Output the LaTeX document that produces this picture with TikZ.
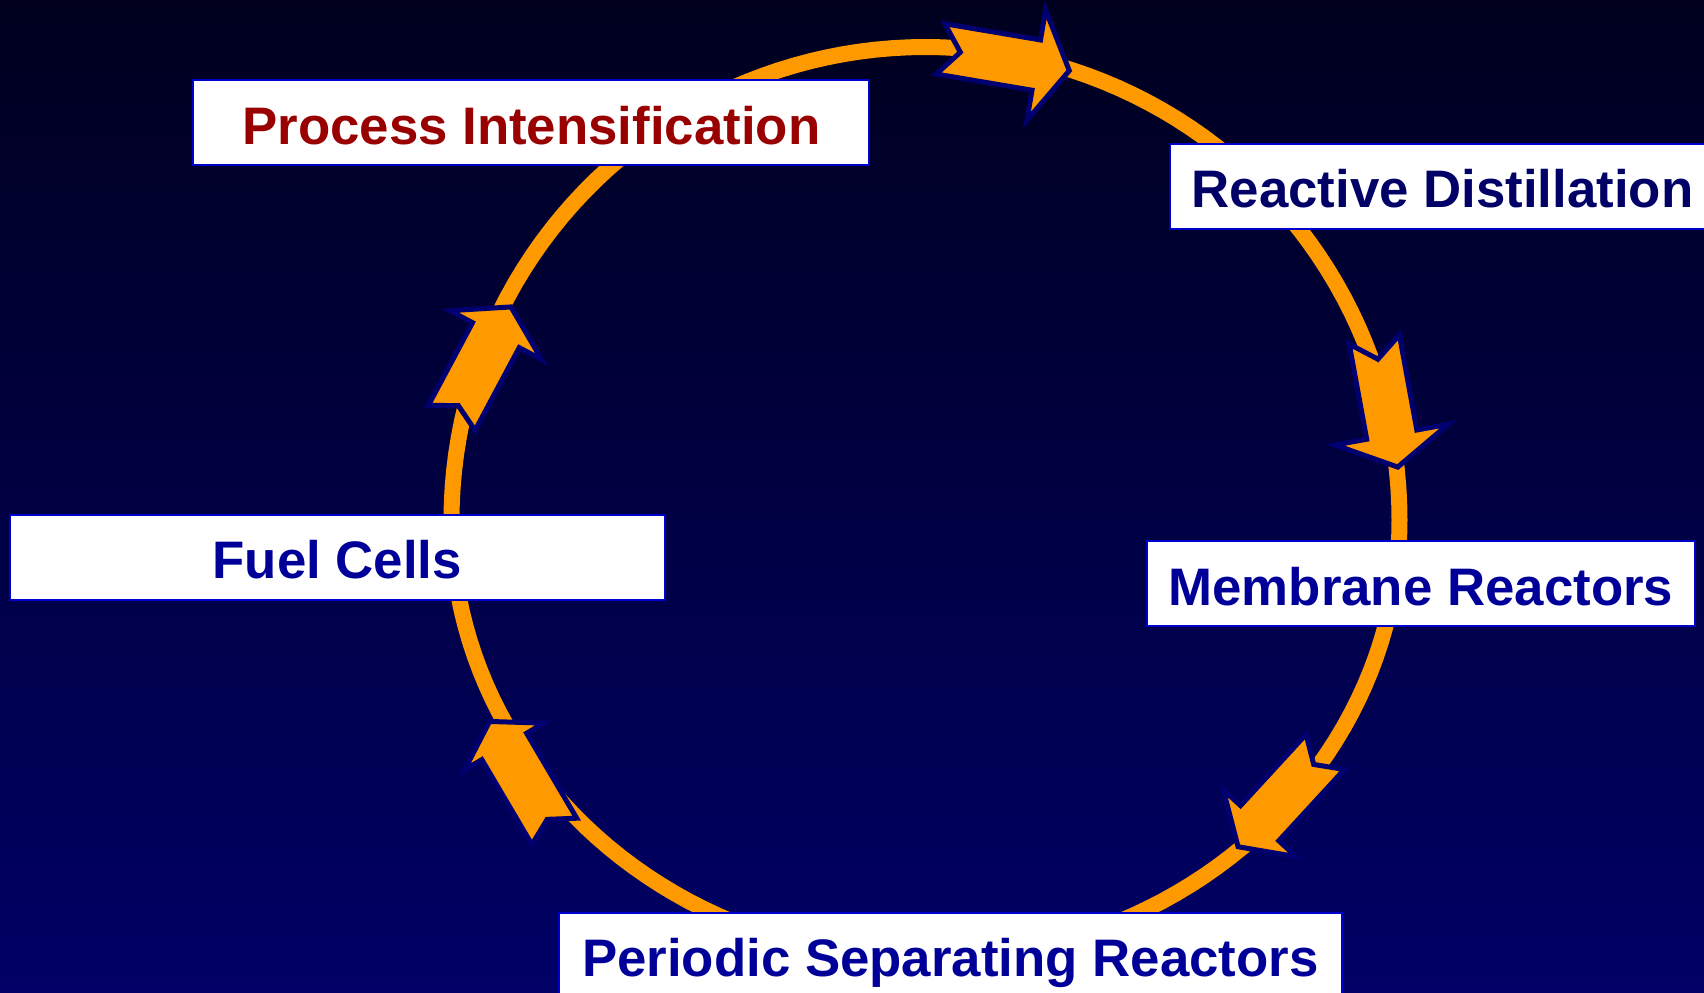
\documentclass[tikz,border=0pt]{standalone}
\usepackage{fontspec}
\setmainfont{Liberation Sans}

\definecolor{ringorange}{RGB}{255,153,0}
\definecolor{arrowedge}{RGB}{0,0,112}
\definecolor{boxedge}{RGB}{0,0,204}
\definecolor{labelred}{RGB}{153,0,0}
\definecolor{labelblue}{RGB}{0,0,153}
\definecolor{labelnavy}{RGB}{0,0,102}
\definecolor{skytop}{RGB}{0,0,30}
\definecolor{skymid}{RGB}{0,0,82}
\definecolor{skybottom}{RGB}{0,0,102}

\tikzset{
  ring/.style={draw=ringorange, line width=16bp},
  arrowbody/.style={fill=ringorange, draw=arrowedge, line width=5bp,
    line join=miter, miter limit=10},
  labelbox/.style={draw=boxedge, line width=2bp, fill=white, inner sep=0pt,
    minimum height=85bp, text height=43bp, text depth=0pt,
    font=\fontsize{53}{60}\selectfont\bfseries, text=labelblue},
}

% notched block arrow: tail centre (#1,#2), direction #3, length #4,
% head length #5, head half-width #6, shaft half-width #7, notch depth #8
\newcommand{\notchedarrow}[8]{%
  \begin{scope}[shift={(#1,#2)}, rotate=#3]
    \filldraw[arrowbody] (0,#7) -- ({#4-#5},#7) -- ({#4-#5},#6) -- (#4,0)
      -- ({#4-#5},-#6) -- ({#4-#5},-#7) -- (0,-#7) -- (#8,0) -- cycle;
  \end{scope}}

\begin{document}
\begin{tikzpicture}[x=1bp, y=-1bp]
  \useasboundingbox (0,0) rectangle (1704,992);
  \shade[top color=skytop, middle color=skymid, bottom color=skybottom]
    (0,0) rectangle (1704,992);

  % the cycle ring: round on top, a little flatter below
  \draw[ring] plot[domain=0:360, samples=181]
    ({925.5+474*cos(\x)}, {520-sin(\x)*((\x<180)*473+(\x>=180)*440)}) -- cycle;

  % direction arrows along the ring
  \notchedarrow{940.6}{48.9}{-9.6}{130.5}{33.5}{56}{25.5}{20}
  \notchedarrow{1374.3}{339.5}{-79.6}{129.7}{33}{57.5}{25.5}{20}
  \notchedarrow{1325.2}{751.9}{-132.6}{128.8}{32}{49.5}{26}{17}
  \notchedarrow{554.3}{831.4}{120.5}{127.6}{29}{46}{26}{14}
  \notchedarrow{451.7}{417.9}{61.9}{125.8}{32}{52}{26.5}{14}

  % labels
  \node[labelbox, text=labelred, minimum width=676bp] (pi) at (531.4,122.8)
    {Process Intensification};
  \node[labelbox, text=labelnavy, minimum width=544.4bp] (rd) at (1442.6,186.4)
    {Reactive Distillation};
  \node[labelbox, minimum width=548.8bp] (mr) at (1420.9,583.5)
    {Membrane Reactors};
  \node[labelbox, minimum width=654.7bp] (fc) at (337.2,557)
    {Fuel Cells};
  \node[labelbox, minimum width=783.5bp] (ps) at (950.3,955.3)
    {Periodic Separating Reactors};
\end{tikzpicture}
\end{document}
